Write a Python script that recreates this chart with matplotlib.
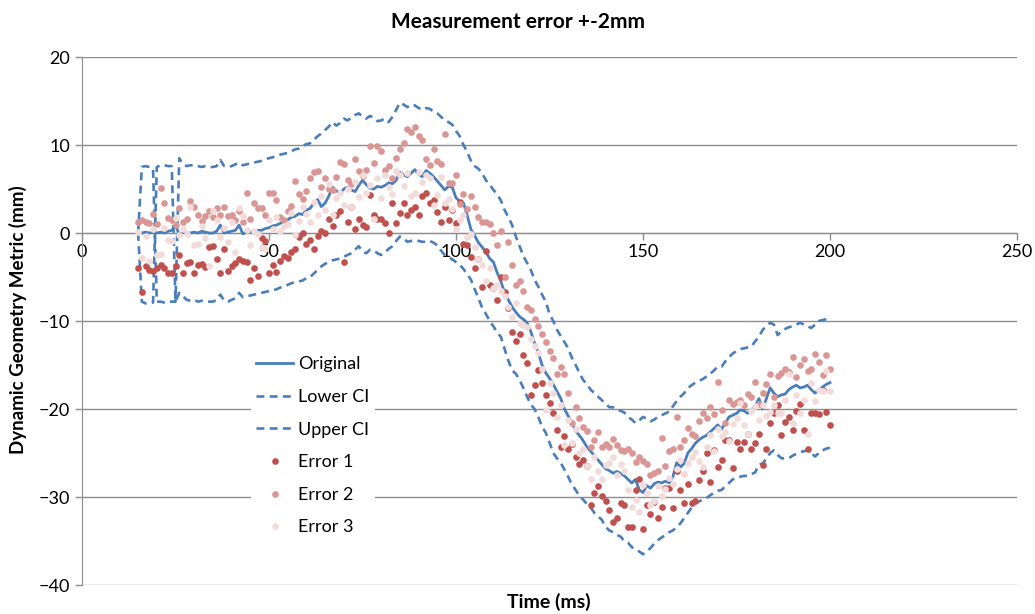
import matplotlib
matplotlib.use("Agg")
import matplotlib.pyplot as plt
import numpy as np

plt.rcParams['font.family'] = ['Lato', 'DejaVu Sans']

# ---------------- data ----------------
time_ms = list(range(15, 201))

original = [
    0.0, 0.0, 0.1, 0.0, 0.1, 0.0, 0.1, 0.0, 0.2, 0.3,
    0.9, -0.2, 0.1, 0.0, 0.0, 0.1, 0.0, 0.2, 0.1, 0.0,
    0.0, 0.2, 0.9, 0.0, 0.1, 0.2, 0.3, 0.9, -0.1, 0.1,
    0.1, 0.2, 0.3, 0.3, 0.5, 0.6, 0.8, 0.9, 1.1, 1.3,
    1.5, 1.8, 1.9, 2.2, 2.1, 2.6, 2.8, 3.4, 3.8, 3.0,
    3.4, 4.2, 5.2, 4.8, 4.5, 5.0, 5.2, 4.9, 4.7, 5.4,
    6.0, 5.5, 5.1, 5.0, 5.3, 5.2, 5.4, 5.7, 5.6, 6.0,
    6.9, 6.6, 6.4, 6.8, 7.2, 6.7, 6.4, 7.1, 6.8, 6.4,
    5.9, 5.4, 4.9, 5.3, 5.2, 4.0, 3.6, 3.4, 2.0, 0.4,
    -0.3, -1.1, -1.6, -2.2, -2.9, -3.3, -4.5, -5.5, -6.8, -7.6,
    -8.4, -9.0, -9.5, -9.8, -10.2, -11.2, -12.5, -13.6, -15.0, -15.9,
    -16.5, -17.2, -18.0, -18.8, -20.0, -20.8, -21.5, -22.5, -23.0, -23.6,
    -24.3, -24.8, -25.3, -25.8, -26.3, -26.8, -27.0, -27.3, -27.1, -27.3,
    -27.6, -28.0, -28.4, -28.0, -29.2, -29.5, -28.7, -29.0, -28.5, -28.3,
    -28.4, -28.2, -28.4, -27.7, -26.1, -26.6, -26.2, -25.0, -24.5, -23.9,
    -23.5, -23.2, -23.0, -22.6, -22.2, -21.8, -22.3, -21.6, -20.9, -20.7,
    -20.5, -20.1, -20.2, -20.5, -20.1, -19.7, -18.8, -20.0, -18.8, -17.6,
    -18.2, -18.6, -18.4, -18.3, -17.8, -17.5, -17.3, -17.6, -17.5, -17.3,
    -17.8, -18.2, -17.8, -17.5, -17.2, -17.0,
]

lower_ci = [
    0.0, -7.8, -8.0, -8.0, -7.9, 7.5, 7.7, 7.7, 7.6, 7.6,
    -7.8, -6.8, -7.2, -7.6, -7.7, -7.6, -7.8, -7.7, -7.8, -7.8,
    -7.8, -7.6, -7.0, -7.7, -7.8, -7.6, -7.4, -6.8, -7.3, -7.2,
    -7.1, -7.0, -6.9, -6.8, -6.7, -6.6, -6.5, -6.4, -6.2, -6.1,
    -5.9, -5.7, -5.6, -5.5, -5.4, -5.1, -5.0, -4.6, -4.2, -3.8,
    -3.5, -3.3, -3.1, -3.0, -2.9, -2.7, -2.5, -2.3, -1.9, -1.5,
    -2.1, -2.3, -1.9, -2.0, -2.3, -2.5, -2.2, -1.8, -1.5, -0.9,
    -0.4, -0.6, -1.0, -0.9, -0.8, -0.9, -1.0, -1.0, -0.9, -1.1,
    -1.4, -2.0, -2.5, -2.7, -3.0, -3.3, -3.6, -4.1, -4.7, -5.3,
    -6.4, -7.4, -8.5, -9.2, -10.0, -10.6, -11.3, -11.8, -13.2, -14.5,
    -15.6, -16.0, -16.7, -17.6, -18.6, -19.5, -20.0, -20.9, -22.0, -22.7,
    -23.8, -25.0, -25.6, -26.1, -26.9, -27.7, -28.6, -29.2, -29.9, -30.3,
    -30.8, -31.2, -31.8, -32.2, -32.6, -33.4, -33.8, -34.0, -34.3, -34.5,
    -35.0, -35.2, -35.7, -35.9, -36.2, -36.5, -36.2, -35.8, -35.3, -34.9,
    -34.6, -34.3, -34.0, -33.8, -33.4, -33.0, -32.4, -31.8, -31.2, -30.7,
    -30.5, -30.3, -30.1, -29.8, -29.5, -29.3, -29.2, -28.8, -28.4, -28.0,
    -27.8, -27.7, -27.6, -27.6, -27.4, -27.2, -26.3, -26.2, -25.6, -25.0,
    -24.7, -25.2, -25.6, -25.6, -25.6, -25.3, -25.1, -24.9, -24.8, -24.7,
    -25.0, -25.4, -25.0, -24.7, -24.5, -24.4,
]

upper_ci = [
    0.0, 7.5, 7.6, 7.5, 7.3, -7.8, -7.8, -7.9, -7.8, -7.8,
    -7.8, 8.5, 7.8, 7.6, 7.7, 7.7, 7.6, 7.5, 7.6, 7.5,
    7.5, 7.6, 8.3, 7.6, 7.5, 7.6, 7.8, 8.0, 7.7, 7.8,
    7.9, 8.0, 8.1, 8.2, 8.4, 8.5, 8.6, 8.8, 8.9, 9.0,
    9.1, 9.3, 9.5, 9.6, 9.9, 10.1, 10.2, 10.6, 11.0, 11.3,
    11.7, 12.1, 12.6, 12.2, 12.5, 13.0, 12.8, 13.1, 13.4, 13.6,
    13.2, 13.0, 13.3, 13.1, 12.7, 12.8, 13.0, 12.6, 13.2, 14.0,
    14.8, 14.6, 14.3, 14.6, 14.5, 14.2, 14.0, 14.2, 14.1, 13.8,
    13.6, 13.2, 12.8, 12.6, 12.3, 11.6, 11.0, 10.0, 9.2, 8.2,
    7.6, 7.3, 6.8, 6.0, 5.5, 4.9, 4.4, 3.7, 2.6, 1.8,
    0.9, -0.4, -1.5, -2.6, -3.4, -4.2, -5.3, -6.1, -7.0, -7.8,
    -9.2, -10.0, -11.0, -11.7, -12.4, -13.1, -14.2, -15.0, -15.9, -16.7,
    -17.2, -17.8, -18.2, -18.6, -19.0, -19.4, -19.8, -19.8, -20.1, -20.2,
    -20.4, -20.9, -21.2, -21.6, -21.3, -20.9, -21.1, -21.4, -21.2, -20.9,
    -20.7, -20.5, -20.3, -19.7, -19.1, -18.6, -18.2, -17.6, -17.3, -17.0,
    -16.8, -16.6, -16.3, -16.0, -15.6, -15.2, -15.2, -14.6, -14.1, -13.7,
    -13.4, -13.2, -13.1, -13.0, -12.9, -12.3, -11.8, -11.0, -10.6, -10.2,
    -10.4, -11.6, -11.2, -10.9, -10.7, -10.6, -10.4, -10.2, -10.4, -10.6,
    -10.8, -10.4, -10.0, -9.9, -9.8, -9.7,
]

error_1 = [
    -4.0, -6.7, -3.8, -4.2, -4.3, -4.0, -3.6, -4.0, -4.5, -4.5,
    -3.8, -2.5, -4.5, -3.4, -3.3, -4.5, -3.6, -3.5, -3.9, -1.6,
    -1.5, -2.9, -4.5, -1.8, -4.3, -3.8, -3.4, -3.0, -3.2, -3.3,
    -5.3, -4.0, -4.9, -0.6, -0.9, -4.5, -3.6, -4.4, -3.2, -2.6,
    -2.8, -2.2, -1.8, -0.4, 0.0, -1.2, -0.8, -1.8, -0.3, 0.2,
    0.0, 1.6, 0.8, 2.0, 2.5, -3.3, 1.2, 2.9, 0.5, 1.6,
    0.9, 0.7, 4.3, 2.1, 1.6, 1.6, 1.1, 0.0, 3.4, 1.1,
    2.3, 3.4, 2.0, 2.6, 3.0, 2.1, 4.2, 4.5, 3.4, 3.7,
    2.4, 1.3, 2.9, 1.5, 2.6, 1.1, 3.5, -1.2, -1.4, -2.7,
    -4.0, -2.9, -6.1, -2.1, -5.9, -6.3, -7.6, -5.0, -6.7, -8.5,
    -11.2, -12.3, -11.5, -13.9, -14.8, -18.4, -17.3, -15.6, -17.0, -18.4,
    -19.3, -20.5, -22.4, -24.3, -23.1, -24.5, -24.0, -25.5, -26.2, -25.8,
    -26.5, -30.9, -29.5, -28.8, -29.9, -30.5, -31.5, -32.8, -32.4, -30.7,
    -30.9, -33.4, -33.4, -29.2, -27.9, -33.6, -30.9, -31.9, -30.6, -32.4,
    -31.1, -29.0, -29.0, -31.3, -27.1, -29.2, -30.7, -28.5, -30.7, -30.5,
    -28.1, -27.1, -25.0, -28.3, -24.7, -26.6, -25.8, -23.5, -23.5, -26.7,
    -23.7, -24.5, -23.7, -22.8, -24.5, -23.9, -22.8, -26.4, -24.5, -21.6,
    -20.5, -19.5, -23.0, -21.5, -20.9, -22.4, -20.2, -19.4, -22.4, -24.5,
    -20.5, -20.4, -20.6, -17.8, -20.3, -21.8,
]

error_2 = [
    1.2, 1.5, 1.3, 1.1, 2.2, 1.0, 5.1, 3.4, 1.7, 1.5,
    0.9, 2.8, 1.2, 1.6, 3.6, 3.0, 2.1, 1.4, 1.9, 2.5,
    1.8, 2.8, 2.0, 3.0, 1.9, 2.1, 1.5, 2.5, 1.2, 4.5,
    1.6, 3.4, 2.8, 2.8, 2.0, 4.5, 4.5, 3.8, 1.8, 1.5,
    2.5, 3.1, 5.9, 4.4, 3.9, 4.8, 6.3, 6.9, 7.0, 5.2,
    6.3, 5.0, 4.9, 6.4, 8.1, 7.8, 6.0, 5.6, 8.4, 7.0,
    6.5, 7.2, 9.9, 8.0, 9.9, 9.3, 7.2, 7.6, 6.2, 8.5,
    9.6, 10.2, 11.8, 11.5, 12.0, 11.0, 10.6, 8.4, 7.7, 9.5,
    8.2, 7.8, 11.2, 5.7, 5.7, 6.6, 3.3, 4.4, 2.7, 4.2,
    3.0, 1.8, 1.2, 1.3, 1.0, 0.0, -1.4, 0.2, -5.0, -1.0,
    -3.6, -5.9, -5.5, -6.6, -8.4, -8.8, -9.8, -10.6, -11.5, -12.4,
    -13.4, -14.2, -16.0, -15.2, -16.0, -18.2, -21.6, -19.8, -21.0, -22.0,
    -22.5, -24.3, -23.5, -22.6, -24.3, -24.0, -24.3, -23.4, -24.1, -24.7,
    -24.8, -24.5, -25.0, -26.0, -25.5, -25.9, -26.2, -27.5, -27.3, -27.1,
    -23.3, -26.5, -24.8, -24.6, -20.9, -24.3, -23.5, -22.2, -22.8, -23.1,
    -21.4, -20.5, -21.0, -19.8, -20.6, -16.9, -20.1, -21.6, -19.0, -19.4,
    -19.2, -19.0, -19.5, -18.3, -18.6, -16.9, -19.4, -18.2, -17.2, -16.0,
    -18.6, -16.3, -15.9, -15.4, -15.8, -14.1, -16.4, -15.0, -14.3, -15.7,
    -15.4, -13.8, -14.7, -16.1, -13.9, -15.5,
]

error_3 = [
    0.1, -2.8, -0.3, -3.2, 0.5, -2.5, -2.4, 0.6, -0.8, -0.9,
    1.7, -0.2, 0.4, -0.1, 3.0, -1.4, -1.2, 0.8, -0.6, -3.8,
    2.5, 1.5, -0.4, 0.6, -1.0, 1.2, -2.2, 2.8, 1.9, 0.3,
    -1.4, 0.2, -0.1, -1.6, -1.8, 1.5, 0.5, 1.8, 0.2, 0.8,
    1.0, 2.3, -0.2, 1.4, 3.0, 2.2, 1.2, 3.5, 2.0, 4.2,
    2.6, 5.6, 2.1, 4.0, 4.6, 3.2, 5.0, 3.0, 5.8, 4.1,
    6.6, 4.6, 5.4, 1.6, 6.3, 4.0, 6.6, 5.2, 4.4, 7.0,
    6.6, 5.3, 6.8, 4.2, 4.6, 6.9, 5.8, 6.6, 6.2, 3.2,
    4.3, 6.4, 3.4, 3.9, 2.7, 0.4, 1.5, 2.0, -0.5, -0.1,
    -1.6, -2.9, -3.6, -5.5, -4.0, -6.2, -5.9, -6.6, -7.2, -8.4,
    -9.5, -8.0, -10.2, -10.5, -10.7, -12.0, -12.8, -13.6, -15.4, -20.1,
    -17.0, -18.2, -20.9, -19.6, -24.1, -21.2, -23.9, -22.3, -25.0, -24.6,
    -26.5, -28.0, -25.4, -27.0, -28.0, -26.4, -26.1, -25.4, -27.5, -26.2,
    -27.0, -29.2, -31.1, -30.3, -31.7, -28.6, -29.5, -30.9, -30.5, -28.8,
    -29.9, -29.1, -27.8, -28.5, -26.8, -25.8, -27.4, -26.1, -25.5, -24.9,
    -25.9, -26.6, -24.3, -23.0, -24.8, -22.3, -23.1, -22.6, -23.6, -21.7,
    -21.0, -19.3, -21.8, -22.8, -20.2, -19.7, -21.2, -19.5, -20.8, -20.3,
    -19.5, -20.5, -20.5, -19.0, -16.0, -21.6, -18.4, -20.5, -19.0, -22.8,
    -17.0, -19.1, -17.8, -18.0, -15.7, -18.0,
]

x_ticks = [0, 50, 100, 150, 200, 250]
y_ticks = [-40, -30, -20, -10, 0, 10, 20]

# ---------------- style ----------------
blue = '#4A7EBB'
c_e1 = '#C0504D'
c_e2 = '#D99694'
c_e3 = '#F2DCDB'
grid_c = '#8C8C8C'

W, H = 1035, 614
fig = plt.figure(figsize=(W / 100, H / 100), dpi=100)
ax = fig.add_axes([82 / W, 1 - 585 / H, (1017 - 82) / W, (585 - 57) / H])

ax.plot(time_ms, original, color=blue, lw=2.0, label='Original', zorder=3)
ax.plot(time_ms, lower_ci, color=blue, lw=1.9, ls=(0, (3, 2)), label='Lower CI', zorder=3)
ax.plot(time_ms, upper_ci, color=blue, lw=1.9, ls=(0, (3, 2)), label='Upper CI', zorder=3)
ms = 4.8
ax.plot(time_ms, error_1, 'o', color=c_e1, ms=ms, mew=0, label='Error 1', zorder=4)
ax.plot(time_ms, error_2, 'o', color=c_e2, ms=ms, mew=0, label='Error 2', zorder=4)
ax.plot(time_ms, error_3, 'o', color=c_e3, ms=ms, mew=0, label='Error 3', zorder=4)

ax.set_xlim(0, 250)
ax.set_ylim(-40, 20)
ax.set_xticks(x_ticks)
ax.set_yticks(y_ticks)
ax.yaxis.grid(True, color=grid_c, lw=1)
ax.set_axisbelow(True)

for s in ['top', 'right']:
    ax.spines[s].set_visible(False)
ax.spines['bottom'].set_position(('data', 0))
ax.spines['bottom'].set_color(grid_c)
ax.spines['left'].set_color(grid_c)
ax.tick_params(axis='both', colors=grid_c, labelcolor='black', labelsize=13,
               length=5, width=1, direction='out')
ax.tick_params(axis='x', pad=3)

leg = ax.legend(loc='upper left', bbox_to_anchor=(242 / W, 1 - 342 / H),
                bbox_transform=fig.transFigure, frameon=True, fontsize=13,
                handlelength=2.0, handletextpad=0.3, labelspacing=0.92,
                borderpad=0.3, markerscale=1.0)
leg.get_frame().set_facecolor('white')
leg.get_frame().set_edgecolor('none')
leg.get_frame().set_alpha(1)

fig.text(518 / W, 1 - 22 / H, 'Measurement error +-2mm', ha='center', va='center',
         fontsize=15, fontweight='bold')
fig.text(549 / W, 1 - 602 / H, 'Time (ms)', ha='center', va='center',
         fontsize=14, fontweight='bold')
fig.text(18 / W, 1 - 320 / H, 'Dynamic Geometry Metric (mm)', ha='center', va='center',
         rotation=90, fontsize=13.5, fontweight='bold')

fig.savefig('out.png', dpi=100)
